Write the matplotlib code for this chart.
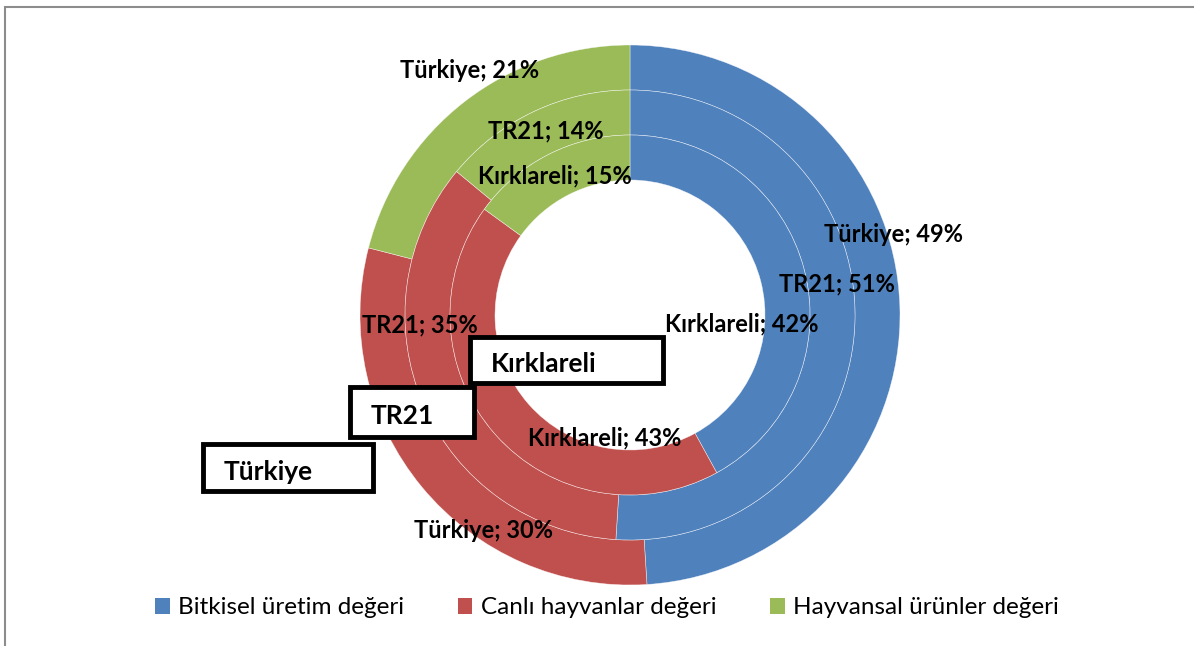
import matplotlib.pyplot as plt
from matplotlib.patches import Patch, Rectangle

plt.rcParams["font.family"] = ["Lato", "DejaVu Sans"]

categories = ["Bitkisel üretim değeri", "Canlı hayvanlar değeri", "Hayvansal ürünler değeri"]
colors = ["#4F81BD", "#C0504D", "#9BBB59"]

rings = ["Türkiye", "TR21", "Kırklareli"]  # outer -> inner
turkiye = [49, 30, 21]
tr21 = [51, 35, 14]
kirklareli = [42, 43, 15]
values = [turkiye, tr21, kirklareli]

# data label positions (pixels from top-left of the image)
label_pos = {
    "Türkiye": [(893, 234), (483, 531), (470, 71)],
    "TR21": [(837, 284), (420, 325), (546, 131)],
    "Kırklareli": [(742, 324), (605, 438), (555, 176)],
}

# ring name boxes: (left, top, right, bottom) in pixels
box_pos = {
    "Kırklareli": (470, 337, 663, 383),
    "TR21": (350, 387, 474, 437),
    "Türkiye": (203, 444, 373, 491),
}

W, H = 1194, 646
cx, cy = 630, 315
outer_r = 270
ring_w = 45

fig = plt.figure(figsize=(W / 100, H / 100), dpi=100)
ax = fig.add_axes([0, 0, 1, 1])

for i, (name, vals) in enumerate(zip(rings, values)):
    ax.pie(vals, colors=colors, startangle=90, counterclock=False,
           radius=outer_r - i * ring_w, center=(cx, H - cy),
           wedgeprops=dict(width=ring_w, edgecolor="#ffffffaa", linewidth=0.4))
    for (px, py), v in zip(label_pos[name], vals):
        ax.text(px, H - py, f"{name}; {v}%", ha="center", va="center",
                fontsize=17, fontweight="bold", color="black")

for name, (l, t, r, b) in box_pos.items():
    ax.add_patch(Rectangle((l, H - b), r - l, b - t, facecolor="white",
                           edgecolor="black", linewidth=3.5, zorder=5))
    ax.text(l + 21, H - (t + b) / 2 - 4, name, ha="left", va="center",
            fontsize=19, fontweight="bold", zorder=6)

ax.set_xlim(0, W)
ax.set_ylim(0, H)
ax.set_aspect("auto")
ax.axis("off")

# chart area border (cut off at right and bottom)
ax.add_patch(Rectangle((5, -10), W + 10, H - 7 + 10, facecolor="none",
                       edgecolor="#8c8c8c", linewidth=1.5, zorder=0))

handles = [Patch(facecolor=c) for c in colors]
fig.legend(handles, categories, loc="center", ncol=3,
           bbox_to_anchor=(607 / W, 1 - 608 / H), frameon=False,
           fontsize=17.5, handlelength=0.6, handleheight=0.6,
           handletextpad=0.35, columnspacing=2.2)

fig.savefig("out.png", dpi=100)
